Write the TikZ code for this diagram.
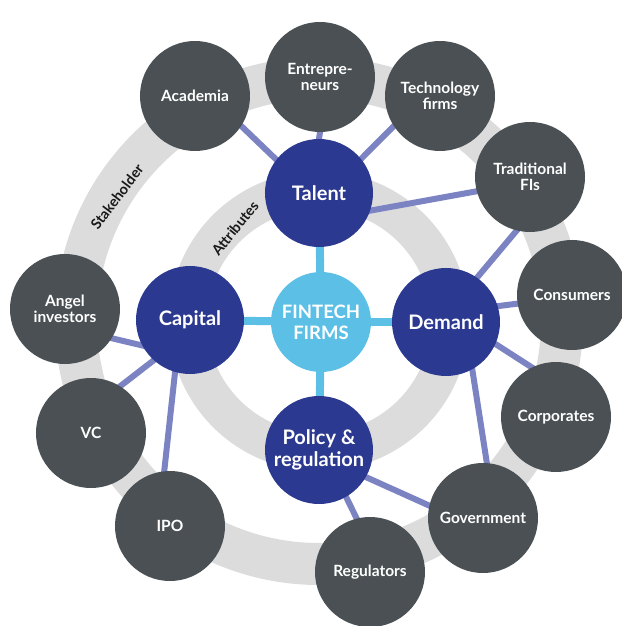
\documentclass[tikz,border=0pt]{standalone}
\usepackage{fontspec}
\setmainfont{Lato}
\usetikzlibrary{backgrounds}

\definecolor{stakegray}{HTML}{4A5053}
\definecolor{attrblue}{HTML}{2B3990}
\definecolor{coreblue}{HTML}{5CC0E6}
\definecolor{linkblue}{HTML}{7B83C3}
\definecolor{bandgray}{HTML}{DCDCDC}

\tikzstyle{stakeholder} = [circle,fill=stakegray,minimum size=110pt,inner sep=0pt,text=white,align=center,font=\bfseries\fontsize{15.5}{16.5}\selectfont]
\tikzstyle{attribute} = [circle,fill=attrblue,minimum size=108pt,inner sep=0pt,text=white,align=center,font=\bfseries\fontsize{20}{22}\selectfont]
\tikzstyle{core} = [circle,fill=coreblue,minimum size=100pt,inner sep=0pt,text=white,align=center,font=\bfseries\fontsize{18.5}{21}\selectfont]
\tikzstyle{band} = [draw=bandgray]
\tikzstyle{link} = [draw=linkblue,line width=6pt,shorten <=-4pt,shorten >=-4pt]
\tikzstyle{corelink} = [draw=coreblue,line width=8pt]
\tikzstyle{ringlabel} = [text=black!90,inner sep=1pt,font=\bfseries\fontsize{14.5}{15}\selectfont]

\begin{document}
\begin{tikzpicture}[x=1pt,y=1pt]
	\useasboundingbox (-319,-305) rectangle (302,321);

	% centre and attributes
	\node (fintech) [core] at (2,-1) {FINTECH\\FIRMS};
	\node (talent) [attribute] at (0,128) {Talent};
	\node (capital) [attribute] at (-129,1) {Capital};
	\node (demand) [attribute] at (127,-1) {Demand};
	\node (policy) [attribute] at (0,-129) {Policy \&\\regulation};

	% stakeholders
	\node (academia) [stakeholder] at (-124,225) {Academia};
	\node (entre) [stakeholder] at (1,244) {Entrepre-\\neurs};
	\node (techfirms) [stakeholder] at (121,225) {Technology\\firms};
	\node (tradfi) [stakeholder] at (211,144) {Traditional\\FIs};
	\node (consumers) [stakeholder] at (253,26) {Consumers};
	\node (corporates) [stakeholder] at (237,-96) {Corporates};
	\node (government) [stakeholder] at (164,-197) {Government};
	\node (regulators) [stakeholder] at (51,-251) {Regulators};
	\node (ipo) [stakeholder] at (-149,-205) {IPO};
	\node (vc) [stakeholder] at (-228,-112) {VC};
	\node (angel) [stakeholder] at (-254,12) {Angel\\investors};

	\begin{scope}[on background layer]
		\draw[band,line width=42pt] (0,0) circle (243pt);
		\draw[band,line width=38pt] (0,0) circle (131pt);

		\node (stake_lbl) [ringlabel,rotate=53] at (-202,124) {Stakeholder};
		\node (attr_lbl) [ringlabel,rotate=51] at (-84,93) {Attributes};

		\path[corelink]
			(fintech) edge (talent)
			(fintech) edge (capital)
			(fintech) edge (demand)
			(fintech) edge (policy)
			;

		\path[link]
			(academia.327) edge (talent.142)
			(entre.south) edge (talent.north)
			(techfirms.213) edge (talent.39)
			(talent.341) edge (tradfi.195)

			(demand.55) edge (tradfi.256)
			(demand.17) edge (consumers.189)
			(demand.336) edge (corporates.116)
			(demand.299) edge (government.86)

			(policy.330) edge (government.167)
			(policy.300) edge (regulators.104)

			(capital.208) edge (angel.328)
			(capital.228) edge (vc.58)
			(capital.254) edge (ipo.96)
			;
	\end{scope}

\end{tikzpicture}
\end{document}
